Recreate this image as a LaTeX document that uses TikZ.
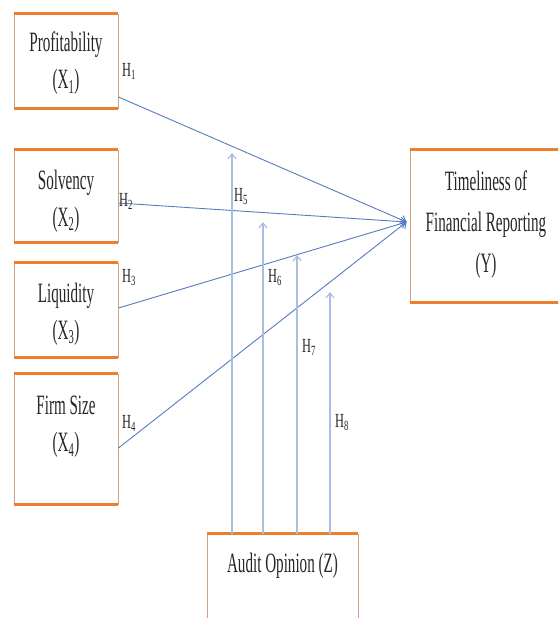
\documentclass[tikz,border=0pt]{standalone}
\usepackage{fontspec}
\setmainfont[FakeStretch=0.54]{Liberation Serif}
\newfontfamily\hfont[FakeStretch=0.62]{Liberation Serif}
\usetikzlibrary{arrows.meta,calc}
\definecolor{boxorange}{RGB}{237,125,49}
\definecolor{boxside}{RGB}{205,160,130}
\definecolor{pathblue}{RGB}{88,122,190}
\definecolor{modblue}{RGB}{170,190,225}
\tikzset{
  box/.style={draw=boxside, line width=0.9pt, fill=white, inner sep=0pt, minimum width=104pt},
  topline/.style={draw=boxorange, line width=3pt},
  boxtxt/.style={align=center, inner sep=0pt, font=\fontsize{28}{37}\selectfont, text=black!85},
  hlab/.style={anchor=base west, inner sep=0pt, font=\hfont\fontsize{20}{22}\selectfont, text=black!85},
  patharr/.style={draw=pathblue, line width=0.9pt, -{Straight Barb[length=5pt,width=9pt]}},
  modarr/.style={draw=modblue, line width=1.2pt, -{Straight Barb[length=5pt,width=8pt]}}
}
\begin{document}
\begin{tikzpicture}[x=1pt,y=-1pt]
\clip (0,0) rectangle (558,618);
\fill[white] (0,0) rectangle (558,618);
% boxes
\node[box, minimum height=94pt, label={[name=pt, boxtxt, yshift=-2.4pt]center:{Profitability\\(X\textsubscript{1})}}] (p) at (66,61) {};
\node[box, minimum height=92pt, label={[name=st, boxtxt, yshift=-5pt]center:{Solvency\\(X\textsubscript{2})}}] (s) at (66,196) {};
\node[box, minimum height=94pt, label={[name=lt, boxtxt, yshift=-4pt]center:{Liquidity\\(X\textsubscript{3})}}] (l) at (66,310) {};
\node[box, minimum height=130pt, label={[name=ft, boxtxt, yshift=12pt]center:{Firm Size\\(X\textsubscript{4})}}] (f) at (66,439) {};
\node[box, minimum width=152pt, minimum height=152pt, label={[name=tt, boxtxt, yshift=1pt, font=\fontsize{28}{41}\selectfont]center:{Timeliness of\\Financial Reporting\\(Y)}}] (t) at (486,226) {};
\node[box, minimum width=151pt, minimum height=92pt] (a) at (282.5,580) {};
\node[boxtxt] (at) at (282.5,565.4) {Audit Opinion (Z)};
% thick top and bottom borders
\foreach \b in {p,s,l,f,t}{
  \draw[topline] (\b.north west) -- (\b.north east);
  \draw[topline] (\b.south west) -- (\b.south east);
}
\draw[topline] (a.north west) -- (a.north east);
% direct paths
\draw[patharr] ([yshift=-36pt]p.east) -- ([xshift=-3pt,yshift=4pt]t.west);
\draw[patharr] ([yshift=-7pt]s.east) -- ([xshift=-3pt,yshift=4pt]t.west);
\draw[patharr] ([yshift=2pt]l.east) -- ([xshift=-3pt,yshift=4pt]t.west);
\draw[patharr] ([yshift=-9pt]f.east) -- ([xshift=-3pt,yshift=4pt]t.west);
% moderation arrows
\coordinate (m5) at (232,153);
\coordinate (m6) at (263,222);
\coordinate (m7) at (297,255);
\coordinate (m8) at (330,292);
\foreach \m in {m5,m6,m7,m8}{
  \draw[modarr] (a.north -| \m) -- (\m);
}
% hypothesis labels
\node[hlab] (h1) at (122,76) {H\textsubscript{1}};
\node[hlab] (h2) at (119,206) {H\textsubscript{2}};
\node[hlab] (h3) at (122,282) {H\textsubscript{3}};
\node[hlab] (h4) at (122,428) {H\textsubscript{4}};
\node[hlab] (h5) at (234,201) {H\textsubscript{5}};
\node[hlab] (h6) at (268,282) {H\textsubscript{6}};
\node[hlab] (h7) at (302,352) {H\textsubscript{7}};
\node[hlab] (h8) at (335,427) {H\textsubscript{8}};
\end{tikzpicture}
\end{document}
